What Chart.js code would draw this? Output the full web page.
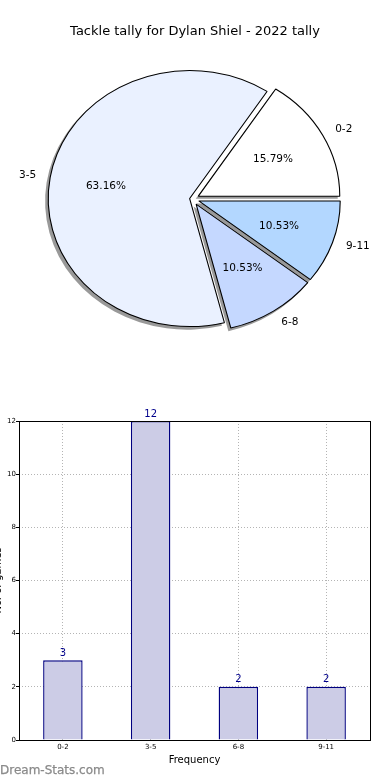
<!DOCTYPE html>
<html><head><meta charset="utf-8">
<script src="https://cdn.jsdelivr.net/npm/chart.js@4/dist/chart.umd.min.js"></script>
<style>
html,body{margin:0;padding:0;background:#fff;width:390px;height:780px;overflow:hidden;font-family:"DejaVu Sans",sans-serif;}
#title{position:absolute;left:0;top:23px;width:390px;text-align:center;font-size:13px;line-height:15px;color:#000;}
#pieWrap{position:absolute;left:0;top:0;width:390px;height:400px;}
#barWrap{position:absolute;left:0;top:400px;width:390px;height:380px;}
#wm{position:absolute;left:0;top:763px;font-size:12px;line-height:14px;color:#8a8a8a;-webkit-text-stroke:0.25px #8a8a8a;}
</style></head><body>
<div id="pieWrap"><canvas id="pie"></canvas></div>
<div id="barWrap"><canvas id="bar"></canvas></div>
<div id="title">Tackle tally for Dylan Shiel - 2022 tally</div>
<div id="wm">Dream-Stats.com</div>
<script>
const categories = ['0-2', '3-5', '6-8', '9-11'];
const counts = [3, 12, 2, 2];
const pieColors = ['#ffffff', '#eaf1ff', '#c5d8ff', '#b3d7ff'];
const yTicks = [0, 2, 4, 6, 8, 10, 12];
const chartTitle = 'Tackle tally for Dylan Shiel - 2022 tally';
const xTitle = 'Frequency';
const yTitle = 'No. of games';

const FONT = 'DejaVu Sans';
const SX = 1.105;                     // horizontal stretch of the pie (elliptical like the reference)
const explodeBy = [6, 2.6, 6, 6];     // style: explode distance per category
const total = counts.reduce((a, b) => a + b, 0);

// Chart.js draws clockwise, reference runs counter-clockwise from 3 o'clock: reverse order
const order = [3, 2, 1, 0];
const pieLabels = order.map(i => categories[i]);
const pieValues = order.map(i => counts[i]);
const pieFill = order.map(i => pieColors[i]);
const pieExplode = order.map(i => explodeBy[i]);

const pieFx = {
  id: 'pieFx',
  afterUpdate(chart) {
    const meta = chart.getDatasetMeta(0);
    meta.data.forEach((a, i) => {
      const m = (a.startAngle + a.endAngle) / 2;
      a.x += Math.cos(m) * pieExplode[i];
      a.y += Math.sin(m) * pieExplode[i];
    });
  },
  beforeDatasetsDraw(chart) {
    const {ctx, chartArea} = chart;
    const cx = (chartArea.left + chartArea.right) / 2;
    const cy = (chartArea.top + chartArea.bottom) / 2;
    ctx.save();
    ctx.translate(cx, cy); ctx.scale(SX, 1); ctx.translate(-cx, -cy);
    const meta = chart.getDatasetMeta(0);
    ctx.fillStyle = 'rgba(0,0,0,0.4)';
    meta.data.forEach(a => {
      const x = a.x - 2.6 / SX, y = a.y + 2.6;
      ctx.beginPath();
      ctx.moveTo(x, y);
      ctx.arc(x, y, a.outerRadius + 0.5, a.startAngle, a.endAngle);
      ctx.closePath();
      ctx.fill();
    });
  },
  afterDatasetsDraw(chart) {
    const {ctx, chartArea} = chart;
    ctx.restore();
    const cx = (chartArea.left + chartArea.right) / 2;
    const meta = chart.getDatasetMeta(0);
    ctx.save();
    ctx.fillStyle = '#000';
    ctx.font = '10.5px "' + FONT + '"';
    ctx.textBaseline = 'middle';
    meta.data.forEach((a, i) => {
      const m = (a.startAngle + a.endAngle) / 2;
      const R = a.outerRadius;
      const lx = cx + SX * (a.x + 1.1 * R * Math.cos(m) - cx);
      const ly = a.y + 1.1 * R * Math.sin(m);
      ctx.textAlign = Math.cos(m) >= 0 ? 'left' : 'right';
      ctx.fillText(pieLabels[i], lx, ly);
      const px = cx + SX * (a.x + 0.6 * R * Math.cos(m) - cx);
      const py = a.y + 0.6 * R * Math.sin(m);
      ctx.textAlign = 'center';
      ctx.fillText((pieValues[i] / total * 100).toFixed(2) + '%', px, py);
    });
    ctx.restore();
  }
};

new Chart(document.getElementById('pie'), {
  type: 'pie',
  data: {
    labels: pieLabels,
    datasets: [{
      data: pieValues,
      backgroundColor: pieFill,
      borderColor: '#000',
      borderWidth: 1,
      borderAlign: 'center'
    }]
  },
  options: {
    responsive: true,
    maintainAspectRatio: false,
    animation: false,
    events: [],
    rotation: 90,
    radius: 128,
    layout: {padding: {left: 0, right: 5, top: 0, bottom: 2}},
    plugins: {legend: {display: false}, tooltip: {enabled: false}, title: {display: false}}
  },
  plugins: [pieFx]
});

const barFx = {
  id: 'barFx',
  afterDatasetsDraw(chart) {
    const {ctx} = chart;
    const meta = chart.getDatasetMeta(0);
    ctx.save();
    ctx.fillStyle = '#00008b';
    ctx.font = '10px "' + FONT + '"';
    ctx.textAlign = 'center';
    ctx.textBaseline = 'bottom';
    meta.data.forEach((b, i) => {
      ctx.fillText(String(counts[i]), b.x, b.y - 2);
    });
    ctx.restore();
  },
  afterDraw(chart) {
    const {ctx, chartArea: a} = chart;
    ctx.save();
    ctx.strokeStyle = '#000';
    ctx.lineWidth = 1;
    ctx.strokeRect(Math.round(a.left) + 0.5, Math.round(a.top) + 0.5,
      Math.round(a.right - a.left), Math.round(a.bottom - a.top));
    // y axis title, partly outside the left edge as in the reference
    ctx.translate(-2, (a.top + a.bottom) / 2);
    ctx.rotate(-Math.PI / 2);
    ctx.fillStyle = '#000';
    ctx.font = '10px "' + FONT + '"';
    ctx.textAlign = 'center';
    ctx.textBaseline = 'middle';
    ctx.fillText(yTitle, 0, 0);
    ctx.restore();
  }
};

new Chart(document.getElementById('bar'), {
  type: 'bar',
  data: {
    labels: categories,
    datasets: [{
      data: counts,
      backgroundColor: '#ccccE6',
      borderColor: '#000080',
      borderWidth: 1.4,
      barPercentage: 0.45,
      categoryPercentage: 1
    }]
  },
  options: {
    responsive: true,
    maintainAspectRatio: false,
    animation: false,
    events: [],
    layout: {padding: {top: 21, right: 20, left: 0, bottom: 0}},
    plugins: {legend: {display: false}, tooltip: {enabled: false}},
    scales: {
      x: {
        z: 1,
        offset: true,
        grid: {offset: false, color: '#b4b4b4', lineWidth: 1, drawTicks: false},
        border: {display: false, dash: [1, 2]},
        ticks: {font: {size: 7, family: FONT}, color: '#000', padding: 3, maxRotation: 0},
        title: {display: true, text: xTitle, font: {size: 10, family: FONT}, color: '#000', padding: {top: 0, bottom: 14}},
        afterFit(s) { s.height = 40; }
      },
      y: {
        z: 1,
        min: yTicks[0],
        max: yTicks[yTicks.length - 1],
        afterBuildTicks(s) { s.ticks = yTicks.map(v => ({value: v})); },
        grid: {color: '#b4b4b4', lineWidth: 1, drawTicks: true, tickLength: 3, tickColor: '#000', tickBorderDash: []},
        border: {display: false, dash: [1, 2]},
        ticks: {font: {size: 7, family: FONT}, color: '#000', padding: 0},
        afterFit(s) { s.width = 19; }
      }
    }
  },
  plugins: [barFx]
});
</script>
</body></html>
